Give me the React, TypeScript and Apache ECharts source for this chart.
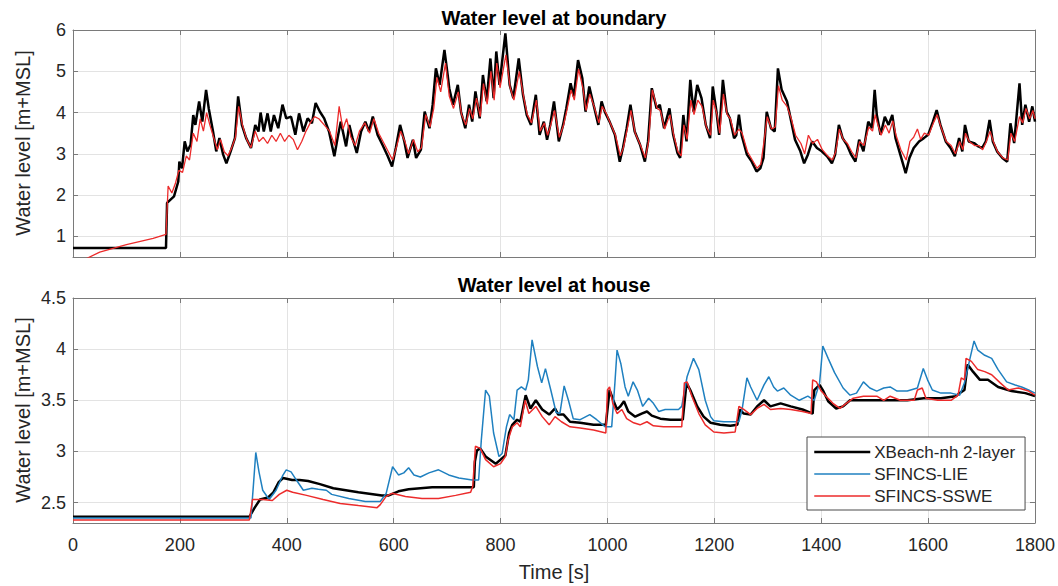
import React, { useEffect, useRef } from "react";
import * as echarts from "echarts";

// Time axis
const timeMin = 0;
const timeMax = 1800;
const timeStep = 200;

// Series names
const nameXB = "XBeach-nh 2-layer";
const nameLIE = "SFINCS-LIE";
const nameSSWE = "SFINCS-SSWE";

// Water level at boundary [t (s), level (m+MSL)]
const boundaryXBeach: [number, number][] = [
  [0, 0.72], [174, 0.72], [176, 1.81], [189, 1.97], [197, 2.33], [199, 2.81], [204, 2.65], [209, 3.3],
  [214, 3.06], [220, 3.22], [225, 3.94], [229, 3.7], [236, 4.27], [242, 3.78], [249, 4.55], [254, 4.1],
  [262, 3.54], [268, 3.06], [274, 3.38], [281, 2.98], [287, 2.77], [295, 3.06], [303, 3.38], [309, 4.39],
  [316, 3.7], [324, 3.38], [333, 3.14], [341, 3.7], [347, 3.54], [351, 4.0], [357, 3.54], [364, 3.98],
  [370, 3.54], [376, 3.94], [384, 3.62], [392, 4.19], [399, 3.86], [408, 3.9], [416, 3.46], [423, 3.98],
  [431, 3.54], [439, 3.86], [447, 3.74], [454, 4.23], [462, 4.02], [470, 3.86], [479, 3.54], [489, 2.94],
  [495, 3.38], [501, 3.78], [511, 3.18], [517, 3.7], [523, 3.38], [531, 3.02], [539, 3.54], [547, 3.78],
  [554, 3.54], [561, 3.9], [570, 3.46], [579, 3.22], [589, 2.94], [597, 2.69], [604, 3.14], [612, 3.7],
  [620, 3.3], [626, 2.9], [636, 3.34], [642, 2.9], [651, 3.1], [658, 4.02], [667, 3.62], [673, 4.19],
  [679, 5.07], [686, 4.67], [695, 5.52], [701, 4.91], [704, 4.59], [711, 4.19], [720, 4.67], [726, 4.02],
  [734, 3.62], [741, 4.19], [747, 3.78], [753, 4.51], [761, 3.86], [767, 4.91], [774, 4.27], [781, 5.31],
  [787, 4.35], [792, 5.48], [798, 4.67], [809, 5.92], [817, 4.67], [824, 4.35], [834, 5.31], [842, 4.43],
  [849, 3.94], [857, 3.7], [866, 4.43], [873, 3.46], [881, 3.78], [887, 3.34], [893, 3.7], [900, 4.27],
  [909, 3.3], [917, 3.7], [923, 4.1], [931, 4.71], [937, 4.39], [945, 5.27], [953, 4.83], [959, 4.02],
  [966, 4.63], [974, 4.19], [983, 3.7], [989, 4.27], [995, 4.02], [1004, 3.78], [1014, 3.46], [1023, 2.81],
  [1029, 3.14], [1036, 3.62], [1043, 4.19], [1051, 3.54], [1061, 3.22], [1070, 2.81], [1076, 3.3], [1083, 4.59],
  [1092, 4.1], [1098, 4.19], [1106, 3.62], [1116, 4.1], [1123, 3.46], [1131, 3.02], [1136, 2.9], [1142, 3.94],
  [1148, 3.3], [1155, 4.79], [1161, 4.02], [1168, 4.67], [1176, 4.35], [1184, 3.7], [1192, 3.38], [1197, 4.63],
  [1204, 4.02], [1209, 3.46], [1216, 4.79], [1223, 4.02], [1229, 3.86], [1237, 3.38], [1241, 3.45], [1246, 3.95],
  [1251, 3.46], [1261, 2.98], [1270, 2.81], [1279, 2.57], [1286, 2.65], [1292, 2.9], [1298, 4.02], [1306, 3.62],
  [1313, 3.54], [1319, 5.07], [1326, 4.55], [1336, 4.27], [1344, 3.78], [1351, 3.34], [1361, 3.06], [1368, 2.77],
  [1375, 2.98], [1383, 3.3], [1392, 3.14], [1401, 3.06], [1411, 2.94], [1420, 2.77], [1426, 2.98], [1433, 3.7],
  [1440, 3.38], [1448, 3.22], [1456, 2.98], [1464, 2.81], [1471, 3.34], [1479, 3.06], [1488, 3.78], [1495, 3.62],
  [1500, 4.55], [1504, 3.94], [1511, 3.46], [1519, 3.9], [1526, 3.7], [1533, 3.94], [1539, 3.38], [1548, 2.98],
  [1558, 2.53], [1565, 2.9], [1573, 3.14], [1583, 3.3], [1592, 3.38], [1600, 3.46], [1609, 3.78], [1616, 4.06],
  [1623, 3.7], [1633, 3.3], [1642, 3.14], [1650, 2.94], [1658, 3.38], [1664, 3.06], [1669, 3.7], [1676, 3.3],
  [1686, 3.26], [1694, 3.18], [1701, 3.14], [1708, 3.3], [1715, 3.82], [1721, 3.3], [1729, 3.06], [1739, 2.9],
  [1748, 2.81], [1754, 3.74], [1761, 3.26], [1771, 4.71], [1776, 3.7], [1782, 4.19], [1789, 3.78], [1795, 4.15],
  [1800, 3.78],
];

const boundarySSWE: [number, number][] = [
  [0, 0.3], [50, 0.62], [100, 0.8], [150, 0.95], [174, 1.05], [178, 2.22], [185, 2.05], [192, 2.3],
  [198, 2.6], [205, 2.55], [212, 2.95], [218, 2.85], [225, 3.5], [232, 3.3], [238, 3.85], [244, 3.55],
  [250, 4.0], [256, 3.7], [263, 3.4], [270, 3.1], [276, 3.35], [283, 3.05], [290, 2.95], [297, 3.15],
  [304, 3.4], [310, 4.15], [317, 3.7], [325, 3.35], [333, 3.15], [341, 3.55], [348, 3.3], [356, 3.4],
  [364, 3.25], [372, 3.45], [380, 3.3], [388, 3.5], [396, 3.3], [404, 3.45], [412, 3.35], [420, 3.1],
  [428, 3.3], [436, 3.55], [444, 3.75], [452, 3.9], [460, 3.85], [470, 3.7], [480, 3.55], [490, 3.2],
  [498, 4.15], [505, 3.6], [512, 3.85], [520, 3.4], [528, 3.2], [536, 3.55], [546, 3.75], [555, 3.5],
  [563, 3.85], [572, 3.5], [582, 3.25], [590, 3.05], [598, 2.85], [606, 3.2], [613, 3.55], [621, 3.3],
  [628, 3.0], [637, 3.35], [645, 3.05], [652, 3.15], [660, 3.95], [668, 3.65], [675, 4.1], [681, 4.85],
  [688, 4.5], [697, 5.2], [704, 4.4], [712, 4.1], [721, 4.5], [727, 3.95], [735, 3.7], [742, 4.1],
  [748, 3.85], [755, 4.35], [762, 3.9], [768, 4.7], [775, 4.2], [782, 5.0], [788, 4.3], [793, 5.2],
  [799, 4.6], [810, 5.4], [818, 4.6], [825, 4.3], [835, 5.0], [843, 4.4], [850, 3.95], [858, 3.75],
  [867, 4.3], [874, 3.55], [882, 3.75], [888, 3.45], [894, 3.7], [901, 4.05], [910, 3.4], [918, 3.7],
  [924, 4.05], [932, 4.55], [938, 4.3], [946, 5.05], [954, 4.6], [960, 4.05], [967, 4.45], [975, 4.15],
  [984, 3.75], [990, 4.15], [997, 4.0], [1005, 3.75], [1015, 3.45], [1024, 2.95], [1030, 3.15], [1037, 3.6],
  [1044, 4.05], [1052, 3.5], [1062, 3.2], [1071, 2.9], [1077, 3.3], [1084, 4.55], [1093, 4.1], [1099, 4.05],
  [1107, 3.6], [1117, 3.95], [1124, 3.45], [1132, 3.05], [1138, 2.95], [1143, 3.7], [1149, 3.35], [1156, 4.3],
  [1162, 3.95], [1169, 4.3], [1177, 4.15], [1185, 3.65], [1193, 3.45], [1198, 4.3], [1205, 3.95], [1210, 3.5],
  [1217, 4.45], [1224, 3.95], [1230, 3.85], [1238, 3.45], [1246, 3.6], [1252, 3.5], [1262, 3.05], [1271, 2.85],
  [1280, 2.65], [1287, 2.75], [1293, 3.3], [1299, 3.9], [1307, 3.6], [1314, 3.65], [1320, 4.65], [1327, 4.3],
  [1336, 4.15], [1344, 3.85], [1352, 3.45], [1362, 3.25], [1369, 3.0], [1376, 3.45], [1384, 3.25], [1393, 3.35],
  [1402, 3.1], [1412, 2.95], [1421, 2.85], [1427, 3.05], [1434, 3.6], [1441, 3.35], [1449, 3.25], [1457, 3.05],
  [1465, 2.9], [1472, 3.3], [1480, 3.2], [1489, 3.65], [1496, 3.55], [1501, 3.95], [1505, 3.75], [1512, 3.45],
  [1520, 3.7], [1527, 3.5], [1534, 3.8], [1540, 3.45], [1549, 3.1], [1559, 2.85], [1566, 3.3], [1573, 3.4],
  [1580, 3.6], [1586, 3.35], [1593, 3.5], [1601, 3.45], [1610, 3.75], [1617, 3.95], [1624, 3.65], [1634, 3.3],
  [1643, 3.2], [1651, 3.0], [1659, 3.3], [1665, 3.1], [1670, 3.5], [1677, 3.3], [1687, 3.2], [1695, 3.2],
  [1702, 3.1], [1709, 3.3], [1716, 3.55], [1722, 3.3], [1730, 3.05], [1740, 2.9], [1749, 2.85], [1755, 3.5],
  [1762, 3.3], [1771, 3.9], [1777, 3.75], [1783, 4.1], [1790, 3.85], [1796, 4.05], [1800, 3.85],
];

// Water level at house [t (s), level (m+MSL)]
const houseXBeach: [number, number][] = [
  [0, 2.36], [330, 2.36], [340, 2.45], [350, 2.53], [365, 2.55], [375, 2.6], [385, 2.7], [393, 2.74],
  [410, 2.72], [424, 2.72], [440, 2.71], [462, 2.68], [487, 2.64], [534, 2.6], [578, 2.57], [591, 2.57],
  [609, 2.61], [628, 2.63], [672, 2.65], [703, 2.65], [750, 2.65], [752, 2.9], [756, 3.01], [762, 3.03],
  [772, 2.95], [791, 2.88], [800, 2.92], [809, 2.96], [816, 3.18], [822, 3.26], [831, 3.31], [837, 3.29],
  [847, 3.55], [856, 3.42], [866, 3.5], [878, 3.41], [891, 3.36], [902, 3.42], [908, 3.36], [918, 3.36],
  [930, 3.29], [949, 3.28], [974, 3.26], [997, 3.26], [1004, 3.6], [1011, 3.5], [1018, 3.41], [1024, 3.44],
  [1031, 3.49], [1039, 3.39], [1052, 3.34], [1064, 3.37], [1074, 3.39], [1083, 3.35], [1099, 3.32], [1118, 3.31],
  [1141, 3.31], [1148, 3.67], [1155, 3.6], [1168, 3.44], [1180, 3.34], [1193, 3.28], [1211, 3.26], [1230, 3.25],
  [1243, 3.26], [1248, 3.41], [1255, 3.37], [1268, 3.36], [1280, 3.44], [1293, 3.5], [1305, 3.44], [1324, 3.47],
  [1343, 3.44], [1365, 3.41], [1384, 3.37], [1387, 3.6], [1397, 3.65], [1403, 3.6], [1413, 3.49], [1428, 3.42],
  [1441, 3.44], [1454, 3.5], [1473, 3.5], [1498, 3.5], [1529, 3.5], [1561, 3.5], [1592, 3.52], [1624, 3.52],
  [1652, 3.54], [1659, 3.57], [1668, 3.6], [1674, 3.85], [1684, 3.78], [1697, 3.7], [1712, 3.7], [1731, 3.63],
  [1756, 3.59], [1782, 3.57], [1800, 3.54],
];

const houseLIE: [number, number][] = [
  [0, 2.35], [333, 2.35], [338, 2.7], [342, 2.99], [348, 2.8], [355, 2.62], [367, 2.53], [380, 2.62],
  [392, 2.76], [399, 2.82], [408, 2.8], [418, 2.72], [431, 2.62], [447, 2.64], [459, 2.63], [474, 2.62],
  [484, 2.58], [516, 2.54], [547, 2.51], [575, 2.51], [586, 2.59], [598, 2.85], [609, 2.77], [619, 2.79],
  [628, 2.84], [638, 2.77], [650, 2.75], [666, 2.79], [684, 2.82], [703, 2.77], [722, 2.74], [747, 2.72],
  [759, 2.72], [764, 3.11], [772, 3.6], [779, 3.54], [787, 3.18], [797, 2.95], [803, 2.98], [811, 3.24],
  [817, 3.36], [825, 3.31], [831, 3.6], [839, 3.63], [847, 3.6], [852, 3.7], [859, 4.09], [869, 3.83],
  [877, 3.67], [884, 3.81], [894, 3.6], [904, 3.38], [911, 3.37], [919, 3.64], [927, 3.5], [936, 3.32],
  [949, 3.31], [967, 3.36], [980, 3.31], [996, 3.24], [1008, 3.24], [1014, 3.67], [1018, 3.99], [1025, 3.86],
  [1033, 3.63], [1039, 3.54], [1048, 3.68], [1056, 3.6], [1066, 3.44], [1077, 3.52], [1086, 3.47], [1096, 3.39],
  [1108, 3.41], [1133, 3.41], [1139, 3.44], [1149, 3.73], [1161, 3.91], [1171, 3.8], [1183, 3.5], [1193, 3.34],
  [1199, 3.3], [1218, 3.29], [1246, 3.29], [1252, 3.41], [1261, 3.72], [1268, 3.63], [1280, 3.5], [1293, 3.65],
  [1302, 3.73], [1311, 3.63], [1318, 3.59], [1330, 3.62], [1343, 3.55], [1359, 3.5], [1375, 3.54], [1387, 3.5],
  [1397, 3.67], [1403, 4.03], [1413, 3.91], [1425, 3.77], [1441, 3.62], [1454, 3.55], [1466, 3.57], [1479, 3.68],
  [1491, 3.62], [1504, 3.59], [1517, 3.62], [1529, 3.63], [1542, 3.59], [1561, 3.59], [1580, 3.62], [1591, 3.81],
  [1599, 3.7], [1608, 3.6], [1624, 3.57], [1643, 3.57], [1659, 3.55], [1668, 3.67], [1678, 3.9], [1686, 4.08],
  [1693, 3.99], [1706, 3.94], [1719, 3.91], [1731, 3.8], [1747, 3.68], [1763, 3.65], [1775, 3.63], [1788, 3.6],
  [1800, 3.57],
];

const houseSSWE: [number, number][] = [
  [0, 2.33], [330, 2.33], [336, 2.53], [355, 2.53], [373, 2.52], [386, 2.58], [400, 2.62], [411, 2.6],
  [437, 2.57], [468, 2.53], [500, 2.49], [534, 2.47], [569, 2.45], [575, 2.48], [586, 2.56], [597, 2.59],
  [622, 2.56], [653, 2.54], [684, 2.54], [716, 2.57], [744, 2.6], [748, 2.66], [753, 3.05], [762, 3.03],
  [772, 2.92], [787, 2.85], [800, 2.88], [809, 2.95], [814, 3.11], [822, 3.24], [831, 3.28], [837, 3.24],
  [846, 3.5], [853, 3.37], [866, 3.44], [878, 3.34], [891, 3.26], [902, 3.34], [914, 3.29], [930, 3.24],
  [949, 3.23], [974, 3.21], [997, 3.18], [1000, 3.6], [1004, 3.63], [1010, 3.47], [1018, 3.37], [1027, 3.41],
  [1036, 3.32], [1049, 3.28], [1061, 3.26], [1074, 3.29], [1086, 3.25], [1105, 3.24], [1139, 3.24], [1144, 3.67],
  [1149, 3.68], [1158, 3.54], [1171, 3.37], [1183, 3.26], [1199, 3.19], [1218, 3.18], [1239, 3.19], [1246, 3.44],
  [1255, 3.41], [1268, 3.36], [1280, 3.42], [1293, 3.46], [1305, 3.41], [1324, 3.42], [1343, 3.41], [1365, 3.39],
  [1381, 3.37], [1384, 3.7], [1391, 3.68], [1400, 3.59], [1409, 3.54], [1422, 3.47], [1435, 3.42], [1447, 3.47],
  [1460, 3.52], [1479, 3.54], [1504, 3.54], [1517, 3.5], [1529, 3.54], [1548, 3.5], [1574, 3.5], [1580, 3.6],
  [1589, 3.62], [1596, 3.52], [1618, 3.5], [1643, 3.5], [1656, 3.55], [1662, 3.72], [1668, 3.7], [1671, 3.91],
  [1681, 3.88], [1693, 3.8], [1706, 3.78], [1719, 3.75], [1735, 3.67], [1750, 3.6], [1769, 3.62], [1788, 3.59],
  [1800, 3.55],
];

// Vertical ranges of the two panels
const boundaryRange = { min: 0.5, max: 6, splits: 5 };
const houseRange = { min: 2.3, max: 4.5, splits: 4 };

const titles = ["Water level at boundary", "Water level at house"];
const yName = "Water level [m+MSL]";
const xName = "Time [s]";

const FONT = "'Liberation Sans', Arial, Helvetica, sans-serif";
const BOX = "#7a7a7a";
const GRIDLINE = "#e3e3e3";
const TEXT = "#262626";
const C_XB = "#000000";
const C_LIE = "#1f80c0";
const C_SSWE = "#ec2b2b";

function App() {
  const ref = useRef<HTMLDivElement>(null);

  useEffect(() => {
    if (!ref.current) return;
    const chart = echarts.init(ref.current, undefined, { renderer: "svg" });

    const axisLine = { show: true, onZero: false, lineStyle: { color: BOX, width: 1 } };
    const axisTick = { show: true, inside: true, length: 5, lineStyle: { color: BOX } };
    const splitLine = { show: true, lineStyle: { color: GRIDLINE, width: 1 } };
    const label = { show: true, color: TEXT, fontSize: 18, fontFamily: FONT };
    const plain = (v: number) => String(Math.round(v * 100) / 100);

    const xAxisPair = (gridIndex: number, withLabels: boolean) => [
      {
        type: "value", gridIndex, min: timeMin, max: timeMax, interval: timeStep, position: "bottom",
        axisLine, axisTick, splitLine,
        axisLabel: withLabels ? { ...label, margin: 13, formatter: plain } : { show: false },
      },
      {
        type: "value", gridIndex, min: timeMin, max: timeMax, interval: timeStep, position: "top",
        axisLine, axisTick, splitLine: { show: false }, axisLabel: { show: false },
      },
    ];

    const yAxisPair = (gridIndex: number, r: { min: number; max: number; splits: number }) => [
      {
        type: "value", gridIndex, min: r.min, max: r.max, splitNumber: r.splits, position: "left",
        axisLine, axisTick, splitLine,
        axisLabel: { ...label, margin: 7, showMinLabel: false, formatter: plain },
      },
      {
        type: "value", gridIndex, min: r.min, max: r.max, splitNumber: r.splits, position: "right",
        axisLine, axisTick, splitLine: { show: false }, axisLabel: { show: false },
      },
    ];

    const line = (
      name: string, data: [number, number][], color: string, width: number, axisIndex: number
    ) => ({
      name, type: "line", data, xAxisIndex: axisIndex, yAxisIndex: axisIndex,
      symbol: "none", showSymbol: false, clip: true,
      lineStyle: { color, width }, itemStyle: { color },
    });

    const textStyle = (text: string, size: number, weight: string, color: string) => ({
      text, fontSize: size, fontWeight: weight, fontFamily: FONT, fill: color,
      textAlign: "center", textVerticalAlign: "middle",
    });

    chart.setOption({
      animation: false,
      backgroundColor: "#ffffff",
      grid: [
        { left: 73, right: 23, top: 30, height: 227 },
        { left: 73, right: 23, top: 298, height: 225 },
      ],
      xAxis: [...xAxisPair(0, false), ...xAxisPair(1, true)],
      yAxis: [...yAxisPair(0, boundaryRange), ...yAxisPair(1, houseRange)],
      legend: {
        orient: "vertical",
        left: 807,
        top: 437,
        padding: [6, 10, 5, 6],
        itemWidth: 56,
        itemHeight: 14,
        itemGap: 4,
        backgroundColor: "#ffffff",
        borderColor: "#4a4a4a",
        borderWidth: 1,
        borderRadius: 0,
        selectedMode: false,
        itemStyle: { opacity: 0, borderWidth: 0 },
        textStyle: { color: TEXT, fontSize: 17, fontFamily: FONT, lineHeight: 18, padding: [0, 0, 0, -1] },
        data: [
          { name: nameXB, lineStyle: { width: 2.5 } },
          { name: nameLIE, lineStyle: { width: 1.5 } },
          { name: nameSSWE, lineStyle: { width: 1.5 } },
        ],
      },
      series: [
        line(nameXB, boundaryXBeach, C_XB, 2.5, 0),
        line(nameSSWE, boundarySSWE, C_SSWE, 1.3, 0),
        line(nameXB, houseXBeach, C_XB, 2.5, 2),
        line(nameLIE, houseLIE, C_LIE, 1.5, 2),
        line(nameSSWE, houseSSWE, C_SSWE, 1.5, 2),
      ],
      graphic: [
        { type: "text", x: 554, y: 18, style: textStyle(titles[0], 20, "bold", "#000000") },
        { type: "text", x: 554, y: 285, style: textStyle(titles[1], 20, "bold", "#000000") },
        { type: "text", x: 554, y: 572, style: textStyle(xName, 20, "normal", TEXT) },
        { type: "text", x: 23, y: 143, rotation: Math.PI / 2, style: textStyle(yName, 20, "normal", TEXT) },
        { type: "text", x: 23, y: 410, rotation: Math.PI / 2, style: textStyle(yName, 20, "normal", TEXT) },
      ],
    });

    return () => chart.dispose();
  }, []);

  return (
    <div
      ref={ref}
      style={{ position: "fixed", left: 0, top: 0, width: 1058, height: 586, background: "#fff" }}
    />
  );
}

export default App;
